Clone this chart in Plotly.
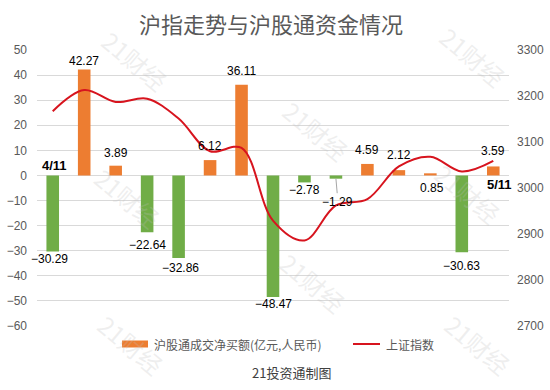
import plotly.graph_objects as go

# ---- data ----
dates = ["4/11", "4/12", "4/13", "4/19", "4/20", "4/21", "4/22", "4/25",
         "4/26", "4/27", "4/28", "4/29", "5/5", "5/10", "5/11"]
net_buy = [-30.29, 42.27, 3.89, -22.64, -32.86, 6.12, 36.11, -48.47,
           -2.78, -1.29, 4.59, 2.12, 0.85, -30.63, 3.59]
sh_index = [3167, 3213, 3187, 3194, 3151, 3080, 3087, 2929,
            2886, 2962, 2976, 3047, 3068, 3036, 3059]
left_ticks = list(range(-60, 51, 10))
right_ticks = list(range(2700, 3301, 100))

# ---- style ----
ORANGE = "#ED7D31"
GREEN = "#70AD47"
RED = "#D7141E"
GRAY = "#595959"
FONT = "Liberation Sans, Arial, Noto Sans CJK SC, sans-serif"
CJK = "Noto Sans CJK SC, Liberation Sans, sans-serif"

W, H = 550, 390
ML, MR, MT, MB = 37, 41, 50, 64
PW, PH = W - ML - MR, H - MT - MB


def px(x):
    return (x - ML) / PW


def py(y):
    return (H - MB - y) / PH


bar_colors = [ORANGE if v >= 0 else GREEN for v in net_buy]

fig = go.Figure()
fig.add_trace(go.Bar(x=dates, y=net_buy, marker=dict(color=bar_colors, line=dict(width=0)),
                     width=0.4, yaxis="y", name="沪股通成交净买额(亿元,人民币)"))
fig.add_trace(go.Scatter(x=dates, y=sh_index, mode="lines", yaxis="y2",
                         line=dict(color=RED, width=2, shape="spline", smoothing=1.0),
                         name="上证指数"))

# data labels (pixel offsets of label centre from bar end)
label_shift = [-8, 8, 13, -13, -10, 14, 14, -7, -8, 0, 14, 15, -15, -14, 15]
label_xshift = [-3, 0, 0, 0, 2, 0, 0, 0, 0, 0, 0, 0, 2, 0, 0]
annotations = []
for i, (d, v) in enumerate(zip(dates, net_buy)):
    txt = f"{v:.2f}".replace("-", "−")
    if i == 9:
        annotations.append(dict(x=d, y=v, xref="x", yref="y", text=txt, showarrow=True,
                                ax=2, ay=23, arrowhead=0, arrowwidth=1, arrowcolor="#A6A6A6",
                                standoff=0, font=dict(family=FONT, size=12, color="#000")))
    else:
        annotations.append(dict(x=d, y=v, xref="x", yref="y", text=txt, showarrow=False,
                                yanchor="middle", yshift=label_shift[i], xshift=label_xshift[i],
                                font=dict(family=FONT, size=12, color="#000")))

# bold date markers
annotations.append(dict(x=dates[0], y=0, xref="x", yref="y", text="<b>4/11</b>", showarrow=False,
                        yanchor="middle", yshift=10, xshift=2,
                        font=dict(family=FONT, size=13, color="#000")))
annotations.append(dict(x=dates[-1], y=0, xref="x", yref="y", text="<b>5/11</b>", showarrow=False,
                        yanchor="middle", yshift=-9, xshift=6,
                        font=dict(family=FONT, size=13, color="#000")))

# legend (manual)
shapes = [
    dict(type="rect", xref="paper", yref="paper", x0=px(122), x1=px(148), y0=py(347.5), y1=py(340.5),
         fillcolor=ORANGE, line=dict(width=0)),
    dict(type="line", xref="paper", yref="paper", x0=px(353), x1=px(380), y0=py(344), y1=py(344),
         line=dict(color=RED, width=2)),
]
annotations.append(dict(xref="paper", yref="paper", x=px(152), y=py(344), xanchor="left", yanchor="middle",
                        text="沪股通成交净买额(亿元,人民币)", showarrow=False,
                        font=dict(family=CJK, size=12, color=GRAY)))
annotations.append(dict(xref="paper", yref="paper", x=px(384), y=py(344), xanchor="left", yanchor="middle",
                        text="上证指数", showarrow=False, font=dict(family=CJK, size=12, color=GRAY)))
annotations.append(dict(xref="paper", yref="paper", x=px(291), y=py(372), xanchor="center", yanchor="middle",
                        text="21投资通制图", showarrow=False, font=dict(family=CJK, size=13, color="#404040")))

# watermarks
for (wx, wy) in [(135, 60), (473, 56), (316, 130), (127, 198), (468, 193), (313, 282), (131, 344), (478, 344)]:
    annotations.append(dict(xref="paper", yref="paper", x=px(wx), y=py(wy), xanchor="center", yanchor="middle",
                            text="21财经", showarrow=False, textangle=40,
                            font=dict(family=CJK, size=24, color="rgba(190,190,190,0.25)")))

fig.update_layout(
    width=W, height=H, autosize=False,
    margin=dict(l=ML, r=MR, t=MT, b=MB, autoexpand=False),
    paper_bgcolor="white", plot_bgcolor="white",
    showlegend=False,
    title=dict(text="沪指走势与沪股通资金情况", x=271 / W, xref="container", xanchor="center",
               y=1 - 25 / H, yref="container", yanchor="middle",
               font=dict(family=CJK, size=22, color=GRAY)),
    xaxis=dict(type="category", showticklabels=False, showgrid=False, zeroline=False, automargin=False,
               showline=False, ticks="", range=[-0.5, len(dates) - 0.5]),
    yaxis=dict(range=[-60, 50], tickvals=left_ticks, ticktext=[str(t).replace("-", "−") for t in left_ticks],
               showgrid=True, gridcolor="#D9D9D9", gridwidth=1, zeroline=False, showline=False,
               automargin=False, ticks="", ticklabelstandoff=9,
               tickfont=dict(family=FONT, size=12, color=GRAY)),
    yaxis2=dict(range=[2700, 3300], tickvals=right_ticks, overlaying="y", side="right",
                showgrid=False, zeroline=False, showline=False, ticks="", ticklabelstandoff=7,
                automargin=False, tickfont=dict(family=FONT, size=12, color=GRAY)),
    annotations=annotations, shapes=shapes,
)

fig.write_html("out.html", config={"displayModeBar": False, "staticPlot": True},
               post_script="document.body.style.margin='0';document.body.style.padding='0';")
